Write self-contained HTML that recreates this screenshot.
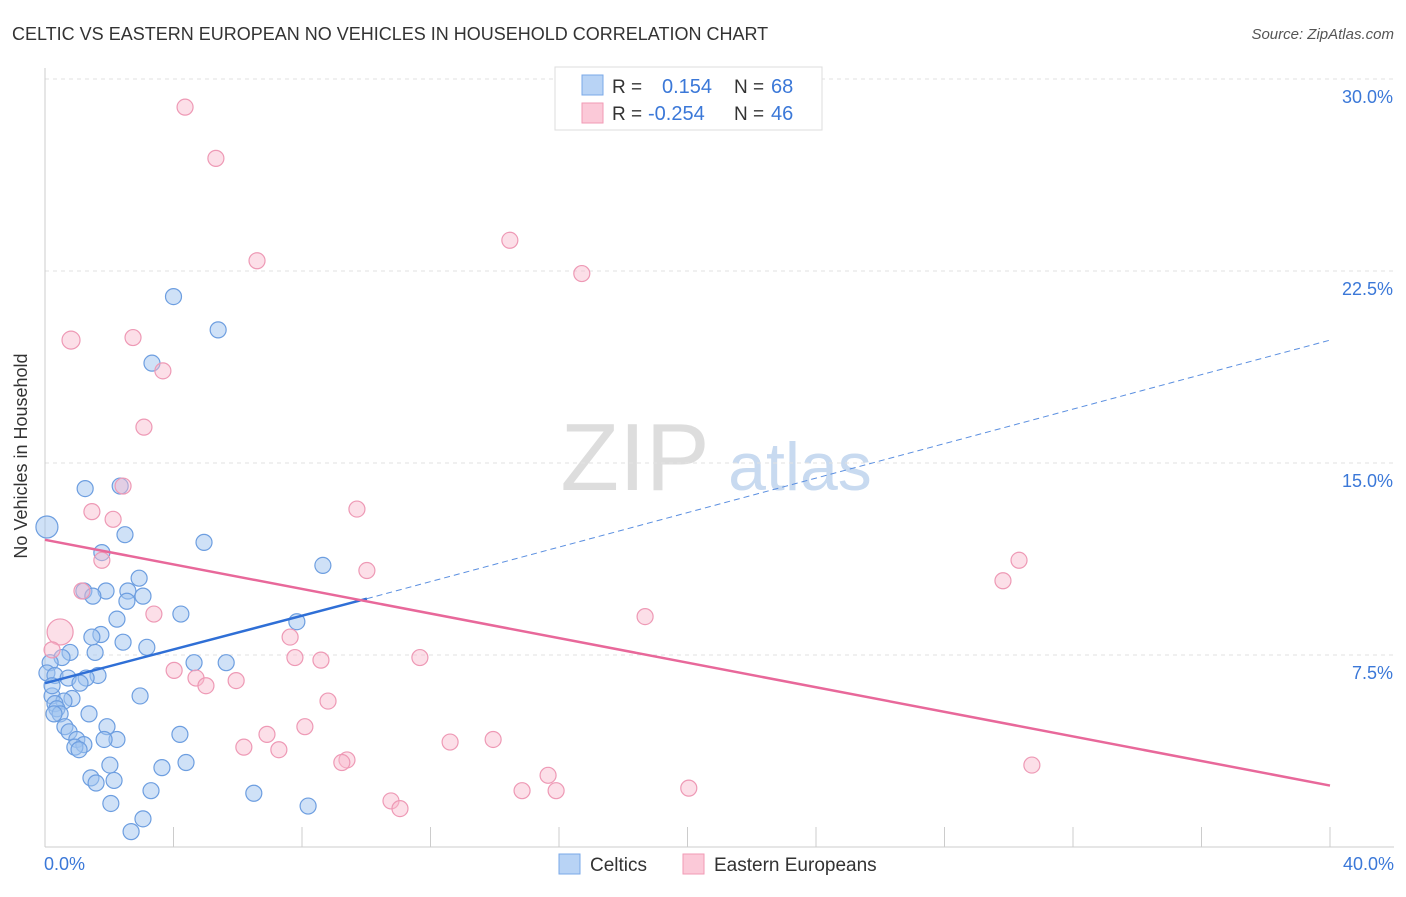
<!DOCTYPE html>
<html><head><meta charset="utf-8"><style>
body{margin:0;background:#fff;font-family:"Liberation Sans",sans-serif;}
svg text{font-family:"Liberation Sans",sans-serif;}
</style></head><body>
<svg id="chart" width="1406" height="892">
<text x="12" y="40" font-size="18" fill="#333">CELTIC VS EASTERN EUROPEAN NO VEHICLES IN HOUSEHOLD CORRELATION CHART</text>
<text x="1394" y="39" font-size="15" fill="#555" text-anchor="end" font-style="italic">Source: ZipAtlas.com</text>
<text x="27" y="456" font-size="18" fill="#333" text-anchor="middle" transform="rotate(-90 27 456)">No Vehicles in Household</text>
<g><text x="635" y="490" font-size="96" fill="#ddd" text-anchor="middle" font-family="Liberation Serif">ZIP</text><text x="800" y="490" font-size="68" fill="#c8daf0" text-anchor="middle">atlas</text></g>
<g id="grid"></g><g id="axes"></g><g id="marks"></g>
<g>
<rect x="555" y="67" width="267" height="63" fill="#fff" stroke="#ddd"/>
<rect x="582" y="75" width="21" height="20" fill="#b8d3f5" stroke="#7aa8e8"/>
<rect x="582" y="103" width="21" height="20" fill="#fbc9d8" stroke="#f19ab5"/>
<text x="612" y="93" font-size="19" fill="#333">R =</text><text x="662" y="93" font-size="20" fill="#3b78d8">0.154</text>
<text x="734" y="93" font-size="19" fill="#333">N =</text><text x="771" y="93" font-size="20" fill="#3b78d8">68</text>
<text x="612" y="120" font-size="19" fill="#333">R =</text><text x="648" y="120" font-size="20" fill="#3b78d8">-0.254</text>
<text x="734" y="120" font-size="19" fill="#333">N =</text><text x="771" y="120" font-size="20" fill="#3b78d8">46</text>
</g>
<g>
<rect x="559" y="854" width="21" height="20" fill="#b8d3f5" stroke="#7aa8e8"/><text x="590" y="871" font-size="19" fill="#333">Celtics</text>
<rect x="683" y="854" width="21" height="20" fill="#fbc9d8" stroke="#f19ab5"/><text x="714" y="871" font-size="19" fill="#333">Eastern Europeans</text>
</g>
</svg>
<script>
const yTicks=[7.5,15,22.5,30];
const yTickLabels=["7.5%","15.0%","22.5%","30.0%"];
const xTickValues=[0,4,8,12,16,20,24,28,32,36,40];
const celticsX=[0.06,4.0,5.39,3.33,1.25,2.34,2.49,4.95,1.77,8.65,1.21,2.93,2.58,1.9,1.49,3.05,2.55,4.23,7.84,2.24,1.74,1.46,2.43,3.17,1.56,0.78,0.53,0.16,4.64,5.64,0.06,0.31,0.72,1.65,1.28,1.09,2.96,0.22,0.84,0.59,0.31,0.37,0.47,0.28,1.37,1.93,0.62,0.75,2.24,1.84,4.2,0.99,1.21,0.93,1.06,4.39,3.64,2.02,1.43,1.59,2.15,3.3,6.5,2.05,8.19,3.05,2.68,0.22];
const celticsY=[12.5,21.5,20.2,18.9,14.0,14.1,12.2,11.9,11.5,11.0,10.0,10.5,10.0,10.0,9.8,9.8,9.6,9.1,8.8,8.9,8.3,8.2,8.0,7.8,7.6,7.6,7.4,7.2,7.2,7.2,6.8,6.7,6.6,6.7,6.6,6.4,5.9,5.9,5.8,5.7,5.6,5.4,5.2,5.2,5.2,4.7,4.7,4.5,4.2,4.2,4.4,4.2,4.0,3.9,3.8,3.3,3.1,3.2,2.7,2.5,2.6,2.2,2.1,1.7,1.6,1.1,0.6,6.3];
const easternX=[4.36,5.32,6.6,14.47,16.71,0.81,2.74,3.67,3.08,2.43,1.46,2.12,9.71,1.77,1.15,10.02,3.39,18.68,30.32,29.82,0.47,7.63,0.22,7.78,8.59,11.67,4.02,4.7,5.01,5.95,8.81,8.09,6.91,6.19,7.28,12.61,13.95,9.4,9.24,15.66,30.72,14.85,15.91,20.04,10.77,11.05];
const easternY=[28.9,26.9,22.9,23.7,22.4,19.8,19.9,18.6,16.4,14.1,13.1,12.8,13.2,11.2,10.0,10.8,9.1,9.0,11.2,10.4,8.4,8.2,7.7,7.4,7.3,7.4,6.9,6.6,6.3,6.5,5.7,4.7,4.4,3.9,3.8,4.1,4.2,3.4,3.3,2.8,3.2,2.2,2.2,2.3,1.8,1.5];
const easternR=[8,8,8,8,8,9,8,8,8,8,8,8,8,8,8,8,8,8,8,8,13,8,8,8,8,8,8,8,8,8,8,8,8,8,8,8,8,8,8,8,8,8,8,8,8,8];
const blueTrend=[[0,6.4],[10.02,9.7],[40,19.8]];
const pinkTrend=[[0,12.0],[40,2.4]];
const X=v=>45+v/40*1285, Y=v=>847-v/7.5*192;
const NS="http://www.w3.org/2000/svg";
function mk(tag,attrs,parent){const e=document.createElementNS(NS,tag);for(const k in attrs)e.setAttribute(k,attrs[k]);parent.appendChild(e);return e;}
const grid=document.getElementById('grid'),axes=document.getElementById('axes'),marks=document.getElementById('marks');
yTicks.forEach((t,i)=>{
 const l=mk('line',{x1:45,x2:1394,y1:Y(t),y2:Y(t),stroke:'#e2e2e2','stroke-dasharray':'4,4'},grid);
 
 
 const tx=mk('text',{x:1393,y:Y(t)+24,'font-size':18,fill:'#3b78d8','text-anchor':'end'},axes);tx.textContent=yTickLabels[i];
 
 
});
const ax=mk('line',{x1:45,x2:45,y1:68,y2:847,stroke:'#ccc'},axes);


const bx=mk('line',{x1:45,x2:1394,y1:847,y2:847,stroke:'#ccc'},axes);


xTickValues.forEach(v=>{const t=mk('line',{x1:X(v),x2:X(v),y1:827,y2:847,stroke:'#ccc'},axes);
 
 });
[[0,'0.0%','start',44],[40,'40.0%','end',1394]].forEach(a=>{const t=mk('text',{x:a[3],y:870,'font-size':18,fill:'#3b78d8','text-anchor':a[2]},axes);t.textContent=a[1];
 
 });
celticsX.forEach((v,i)=>{const c=mk('circle',{cx:X(v),cy:Y(celticsY[i]),r:i==0?11:8,fill:'rgba(160,195,240,0.5)',stroke:'#6d9ee0','stroke-width':1.2},marks);
 
 });
easternX.forEach((v,i)=>{const c=mk('circle',{cx:X(v),cy:Y(easternY[i]),r:easternR[i],fill:'rgba(248,185,205,0.45)',stroke:'#ee99b5','stroke-width':1.2},marks);
 
 });
const b1=mk('line',{x1:X(blueTrend[0][0]),y1:Y(blueTrend[0][1]),x2:X(blueTrend[1][0]),y2:Y(blueTrend[1][1]),stroke:'#2f6fd6','stroke-width':2.5},marks);


const b2=mk('line',{x1:X(blueTrend[1][0]),y1:Y(blueTrend[1][1]),x2:X(blueTrend[2][0]),y2:Y(blueTrend[2][1]),stroke:'#5b8fe0','stroke-width':1,'stroke-dasharray':'6,4'},marks);


const p1=mk('line',{x1:X(pinkTrend[0][0]),y1:Y(pinkTrend[0][1]),x2:X(pinkTrend[1][0]),y2:Y(pinkTrend[1][1]),stroke:'#e8689a','stroke-width':2.5},marks);


</script>
</body></html>
